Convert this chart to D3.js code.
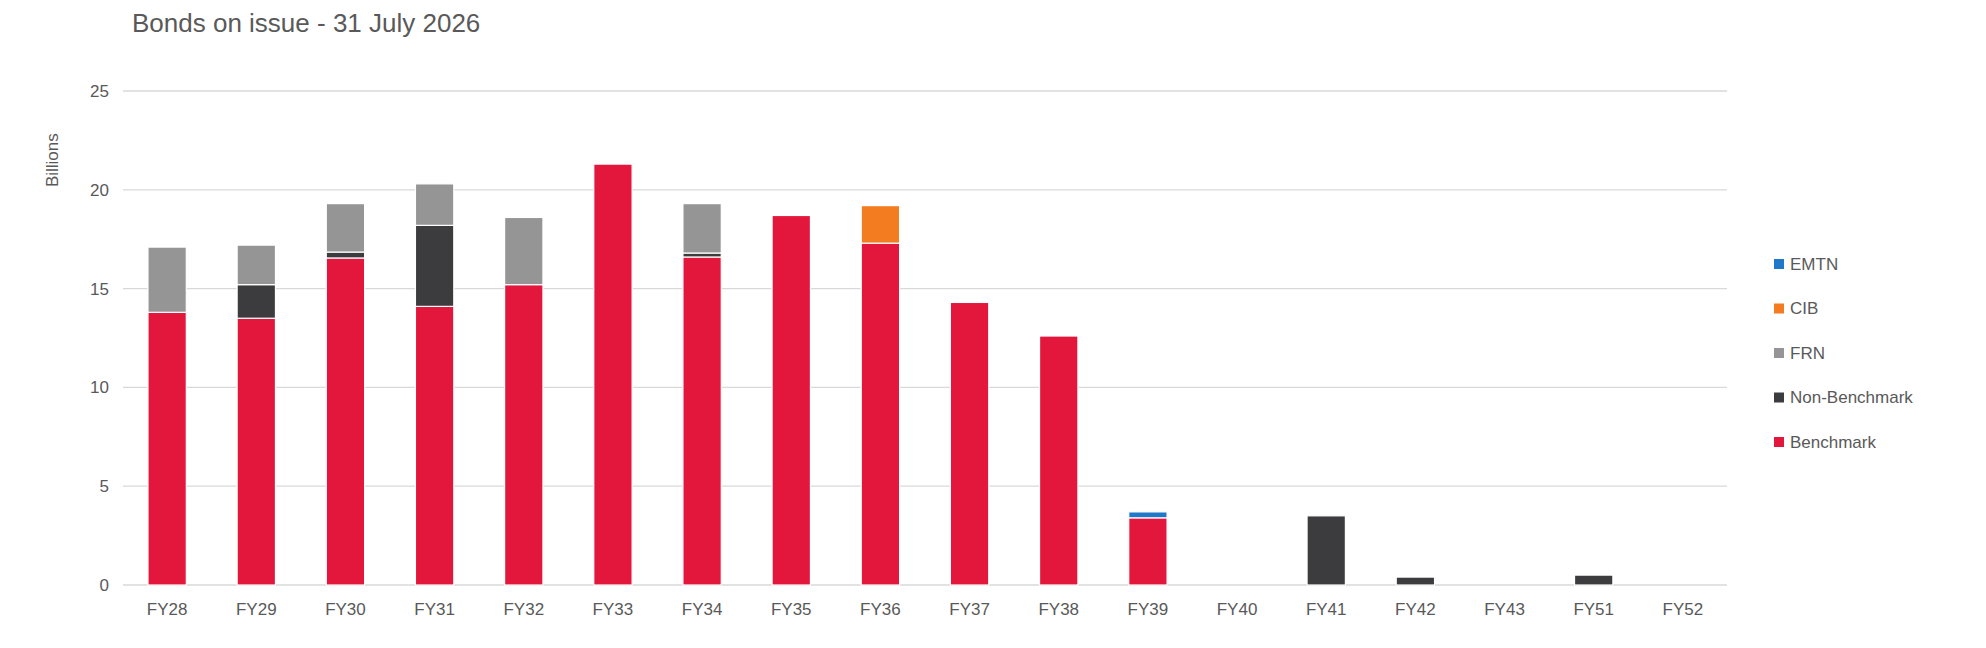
<!DOCTYPE html>
<html>
<head>
<meta charset="utf-8">
<script src="https://cdn.jsdelivr.net/npm/d3@7"></script>
<style>
  body { margin: 0; background: #fff; }
  text { font-family: "Liberation Sans", Arial, sans-serif; fill: #595959; }
</style>
</head>
<body>
<svg id="chart" width="1986" height="648"></svg>
<script>
const categories = ["FY28", "FY29", "FY30", "FY31", "FY32", "FY33", "FY34", "FY35", "FY36",
  "FY37", "FY38", "FY39", "FY40", "FY41", "FY42", "FY43", "FY51", "FY52"];
const benchmark    = [13.8, 13.5, 16.55, 14.1, 15.2, 21.3, 16.6, 18.7, 17.3, 14.3, 12.6, 3.4, 0, 0, 0, 0, 0, 0];
const nonBenchmark = [0, 1.7, 0.3, 4.1, 0, 0, 0.2, 0, 0, 0, 0, 0, 0, 3.5, 0.4, 0, 0.5, 0];
const frn          = [3.3, 2.0, 2.45, 2.1, 3.4, 0, 2.5, 0, 0, 0, 0, 0, 0, 0, 0, 0, 0, 0];
const cib          = [0, 0, 0, 0, 0, 0, 0, 0, 1.9, 0, 0, 0, 0, 0, 0, 0, 0, 0];
const emtn         = [0, 0, 0, 0, 0, 0, 0, 0, 0, 0, 0, 0.3, 0, 0, 0, 0, 0, 0];
const yTicks = [0, 5, 10, 15, 20, 25];

const series = [
  {name: "Benchmark", values: benchmark, color: "#e3163c"},
  {name: "Non-Benchmark", values: nonBenchmark, color: "#3c3c3e"},
  {name: "FRN", values: frn, color: "#959595"},
  {name: "CIB", values: cib, color: "#f47c20"},
  {name: "EMTN", values: emtn, color: "#1f78c8"}
];

const svg = d3.select("#chart");
const plotLeft = 123, plotRight = 1727, plotTop = 91, plotBottom = 585;

const x = d3.scaleBand().domain(categories).range([plotLeft, plotRight]).paddingInner(0.57).paddingOuter(0.28);
const y = d3.scaleLinear().domain([0, 25]).range([plotBottom, plotTop]);

svg.append("text").attr("x", 132).attr("y", 32)
  .style("font-size", "26px").text("Bonds on issue - 31 July 2026");

svg.append("text").attr("transform", `translate(58,${y(21.5)}) rotate(-90)`)
  .attr("text-anchor", "middle").style("font-size", "17px").text("Billions");

// gridlines and y labels
svg.append("g").selectAll("line").data(yTicks).join("line")
  .attr("x1", plotLeft).attr("x2", plotRight)
  .attr("y1", d => y(d)).attr("y2", d => y(d))
  .attr("stroke", "#d9d9d9").attr("stroke-width", 1.3);
svg.append("g").selectAll("text").data(yTicks).join("text")
  .attr("x", plotLeft - 14).attr("y", d => y(d)).attr("dy", "0.35em")
  .attr("text-anchor", "end").style("font-size", "17px").text(d => d);

// x labels
svg.append("g").selectAll("text").data(categories).join("text")
  .attr("x", d => x(d) + x.bandwidth() / 2).attr("y", plotBottom + 30)
  .attr("text-anchor", "middle").style("font-size", "17px").text(d => d);

// stacked bars
const rows = categories.map((c, i) => {
  const r = {cat: c};
  series.forEach(s => r[s.name] = s.values[i]);
  return r;
});
const stack = d3.stack().keys(series.map(s => s.name))(rows);
stack.forEach((layer, k) => {
  svg.append("g").selectAll("rect").data(layer.filter(d => d[1] - d[0] > 0)).join("rect")
    .attr("x", d => x(d.data.cat))
    .attr("width", x.bandwidth())
    .attr("y", d => y(d[1]))
    .attr("height", d => y(d[0]) - y(d[1]))
    .attr("fill", series[k].color)
    .attr("stroke", "#fff").attr("stroke-width", 1.2);
});

// legend
const legend = svg.append("g").attr("transform", "translate(1774,264)");
series.slice().reverse().forEach((s, i) => {
  const g = legend.append("g").attr("transform", `translate(0,${i * 44.5})`);
  g.append("rect").attr("x", 0).attr("y", -5).attr("width", 10).attr("height", 10).attr("fill", s.color);
  g.append("text").attr("x", 16).attr("y", 0).attr("dy", "0.35em")
    .style("font-size", "17px").text(s.name);
});
</script>
</body>
</html>
